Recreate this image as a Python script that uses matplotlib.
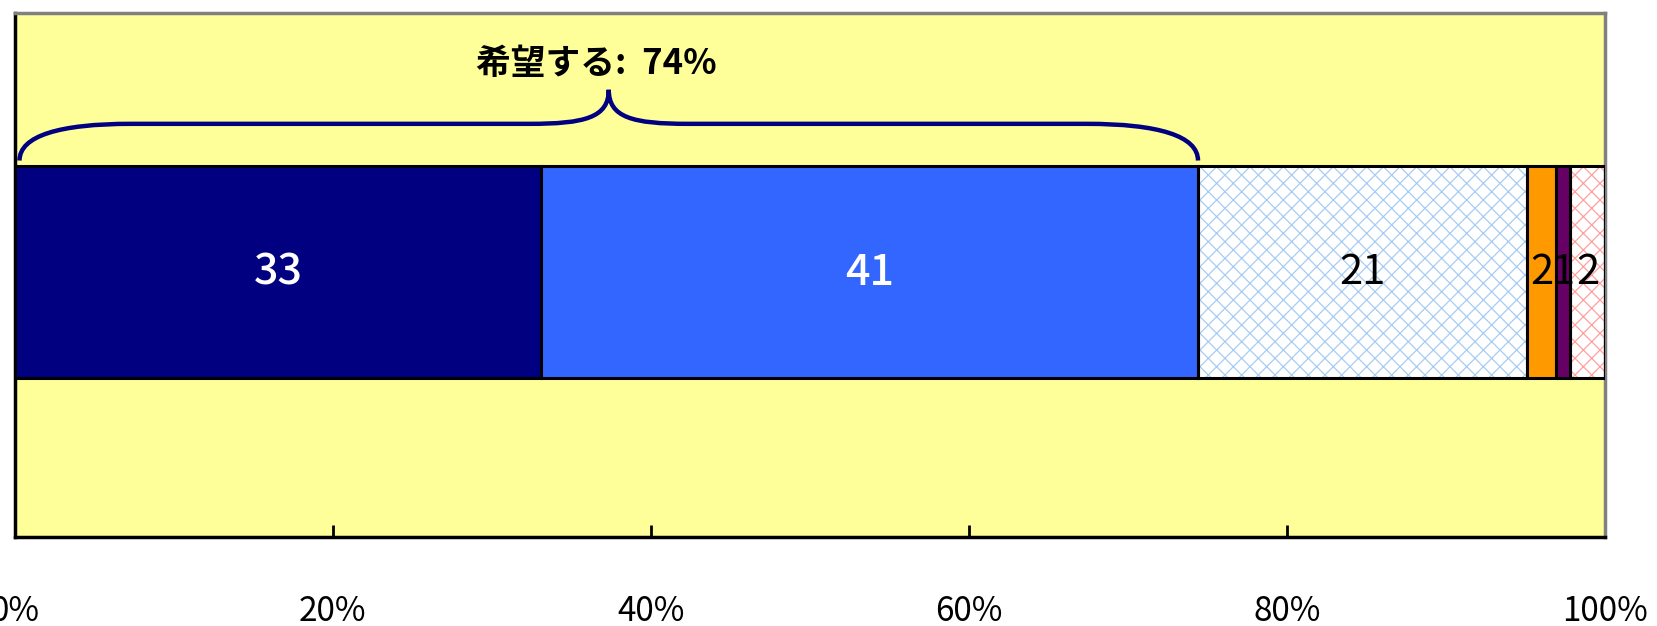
import matplotlib
matplotlib.use("Agg")
import matplotlib.pyplot as plt
from matplotlib.path import Path
from matplotlib.patches import PathPatch

plt.rcParams['font.family'] = ['Noto Sans CJK JP', 'DejaVu Sans']
plt.rcParams['hatch.linewidth'] = 0.9

# data (percent)
categories = ['A', 'B', 'C', 'D', 'E', 'F']
values = [33.1, 41.3, 20.7, 1.8, 0.9, 2.2]
labels = ['33', '41', '21', '2', '1', '2']
face_colors = ['#000080', '#3366FF', 'white', '#FF9900', '#660066', 'white']
hatch_colors = [None, None, '#A8CCF4', None, None, '#FFA0A0']
label_colors = ['white', 'white', 'black', 'black', 'black', 'black']
xticks = [0, 20, 40, 60, 80, 100]
xtick_labels = ['0%', '20%', '40%', '60%', '80%', '100%']
title_text = '希望する:  74%'

fig = plt.figure(figsize=(16.57, 6.26), dpi=100)
ax = fig.add_axes([0.0089, 0.1423, 0.9598, 0.8374])
ax.set_facecolor('#FFFF99')
ax.set_xlim(0, 100)
ax.set_ylim(0, 1)

ybar = 0.505
hbar = 0.405
left = 0
for v, lab, fc, hc, lc in zip(values, labels, face_colors, hatch_colors, label_colors):
    if hc is not None:
        ax.barh(ybar, v, left=left, height=hbar, color='white', edgecolor=hc,
                hatch='xx', linewidth=0, zorder=2)
        ax.barh(ybar, v, left=left, height=hbar, color='none', edgecolor='black',
                linewidth=2.2, zorder=3)
    else:
        ax.barh(ybar, v, left=left, height=hbar, color=fc, edgecolor='black',
                linewidth=2.2, zorder=3)
    if lc == 'white':
        ax.text(left + v / 2, ybar, ' '.join(lab) if False else lab, ha='center',
                va='center', color=lc, fontsize=31, fontweight='medium', zorder=5)
    else:
        ax.text(left + v / 2, ybar, lab, ha='center', va='center', color=lc,
                fontsize=30, zorder=5)
    left += v

# brace over the first two segments
x0 = 0.3
x1 = values[0] + values[1]
mid = (x0 + x1) / 2
ye, yh, yp = 0.718, 0.788, 0.853
verts = [
    (x0, ye), (x0, 0.765), (x0 + 2.5, yh), (x0 + 7, yh),
    (mid - 5, yh),
    (mid - 1.5, yh), (mid, 0.80), (mid, yp),
    (mid, 0.80), (mid + 1.5, yh), (mid + 5, yh),
    (x1 - 7, yh),
    (x1 - 2.5, yh), (x1, 0.765), (x1, ye),
]
codes = [Path.MOVETO, Path.CURVE4, Path.CURVE4, Path.CURVE4,
         Path.LINETO,
         Path.CURVE4, Path.CURVE4, Path.CURVE4,
         Path.CURVE4, Path.CURVE4, Path.CURVE4,
         Path.LINETO,
         Path.CURVE4, Path.CURVE4, Path.CURVE4]
ax.add_patch(PathPatch(Path(verts, codes), facecolor='none', edgecolor='#000080',
                       linewidth=3.2, zorder=4))
ax.text(mid - 0.8, 0.903, title_text, ha='center', va='center', fontsize=25,
        fontweight='bold', color='black', zorder=5)

ax.set_xticks(xticks)
ax.set_xticklabels(xtick_labels, fontsize=24)
ax.tick_params(axis='x', direction='in', length=9, width=2, pad=41, colors='black')
ax.set_yticks([])
for s in ['left', 'bottom']:
    ax.spines[s].set_color('black')
    ax.spines[s].set_linewidth(2.5)
for s in ['top', 'right']:
    ax.spines[s].set_color('#808080')
    ax.spines[s].set_linewidth(2.5)

fig.savefig('out.png', dpi=100, facecolor='white')
